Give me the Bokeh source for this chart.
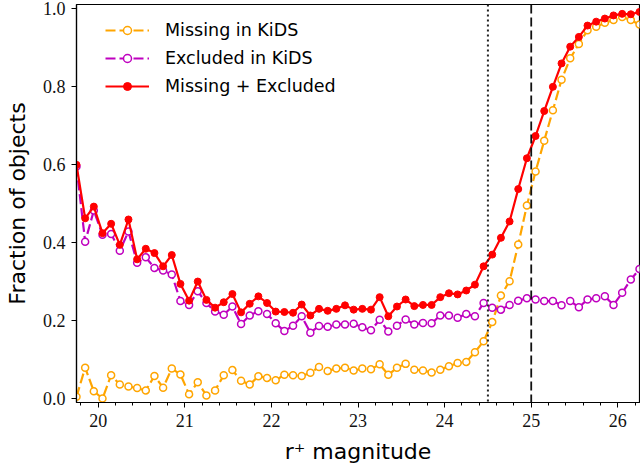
from bokeh.plotting import figure
from bokeh.models import Range1d, FixedTicker, SingleIntervalTicker, Legend, LegendItem, Span, PrintfTickFormatter
from bokeh.embed import file_html
from bokeh.resources import INLINE

# r+ magnitude bin centres
magnitude = [19.75, 19.85, 19.95, 20.05, 20.15, 20.25, 20.35, 20.45, 20.55, 20.65,
             20.75, 20.85, 20.95, 21.05, 21.15, 21.25, 21.35, 21.45, 21.55, 21.65,
             21.75, 21.85, 21.95, 22.05, 22.15, 22.25, 22.35, 22.45, 22.55, 22.65,
             22.75, 22.85, 22.95, 23.05, 23.15, 23.25, 23.35, 23.45, 23.55, 23.65,
             23.75, 23.85, 23.95, 24.05, 24.15, 24.25, 24.35, 24.45, 24.55, 24.65,
             24.75, 24.85, 24.95, 25.05, 25.15, 25.25, 25.35, 25.45, 25.55, 25.65,
             25.75, 25.85, 25.95, 26.05, 26.15, 26.25]

missing = [0.005, 0.079, 0.019, 0.000, 0.060, 0.036, 0.031, 0.027, 0.021, 0.058,
           0.028, 0.077, 0.062, 0.011, 0.042, 0.008, 0.021, 0.060, 0.073, 0.046,
           0.036, 0.057, 0.053, 0.047, 0.061, 0.060, 0.058, 0.066, 0.081, 0.071,
           0.077, 0.079, 0.072, 0.077, 0.075, 0.088, 0.061, 0.079, 0.089, 0.074,
           0.072, 0.067, 0.074, 0.083, 0.091, 0.094, 0.119, 0.147, 0.196, 0.264,
           0.301, 0.395, 0.495, 0.582, 0.661, 0.739, 0.817, 0.872, 0.909, 0.944,
           0.953, 0.963, 0.970, 0.978, 0.970, 0.959]

excluded = [0.595, 0.402, 0.482, 0.420, 0.422, 0.379, 0.428, 0.348, 0.362, 0.335,
            0.328, 0.318, 0.250, 0.240, 0.275, 0.245, 0.223, 0.215, 0.236, 0.191,
            0.213, 0.224, 0.217, 0.193, 0.173, 0.187, 0.211, 0.169, 0.186, 0.184,
            0.190, 0.190, 0.192, 0.183, 0.175, 0.202, 0.172, 0.187, 0.203, 0.190,
            0.194, 0.193, 0.213, 0.213, 0.207, 0.217, 0.211, 0.245, 0.233, 0.228,
            0.240, 0.251, 0.257, 0.254, 0.250, 0.250, 0.239, 0.250, 0.234, 0.254,
            0.257, 0.262, 0.240, 0.271, 0.305, 0.332]

combined = [0.599, 0.462, 0.492, 0.424, 0.448, 0.394, 0.459, 0.357, 0.384, 0.373,
            0.339, 0.368, 0.294, 0.251, 0.300, 0.253, 0.233, 0.247, 0.268, 0.221,
            0.243, 0.262, 0.245, 0.223, 0.222, 0.220, 0.241, 0.213, 0.230, 0.225,
            0.230, 0.239, 0.228, 0.230, 0.228, 0.260, 0.211, 0.236, 0.254, 0.237,
            0.240, 0.240, 0.260, 0.270, 0.267, 0.277, 0.292, 0.339, 0.369, 0.412,
            0.454, 0.537, 0.616, 0.673, 0.737, 0.799, 0.859, 0.902, 0.927, 0.956,
            0.966, 0.974, 0.982, 0.986, 0.985, 0.991]

series_labels = ["Missing in KiDS", "Excluded in KiDS", "Missing + Excluded"]
y_ticks = [0.0, 0.2, 0.4, 0.6, 0.8, 1.0]
limit_dotted = 24.5
limit_dashed = 25.0

p = figure(width=640, height=468, output_backend="svg", toolbar_location=None,
           x_range=Range1d(19.75, 26.25), y_range=Range1d(-0.01, 1.01),
           min_border_left=76, min_border_right=1, min_border_top=4, min_border_bottom=66)
p.background_fill_color = "white"
p.border_fill_color = "white"
p.xgrid.visible = False
p.ygrid.visible = False
p.outline_line_color = "black"
p.outline_line_width = 1.2

for ax in (p.xaxis[0], p.yaxis[0]):
    ax.axis_line_color = "black"
    ax.axis_line_width = 1.2
    ax.major_tick_in = 0
    ax.major_tick_out = 5
    ax.minor_tick_in = 0
    ax.minor_tick_out = 3
    ax.major_tick_line_color = "black"
    ax.minor_tick_line_color = "black"
    ax.major_label_text_font = "Liberation Serif"
    ax.major_label_text_font_size = "18px"
    ax.major_label_text_color = "#111111"

p.xaxis.ticker = SingleIntervalTicker(interval=1, num_minor_ticks=5)
p.xaxis.major_label_standoff = 6
p.xaxis.axis_label = "r\u207a magnitude"
p.xaxis.axis_label_text_font = "DejaVu Sans"
p.xaxis.axis_label_text_font_size = "22px"
p.xaxis.axis_label_text_font_style = "normal"
p.xaxis.axis_label_text_color = "black"
p.xaxis.axis_label_standoff = 9

p.yaxis.ticker = FixedTicker(ticks=y_ticks, minor_ticks=[])
p.yaxis.formatter = PrintfTickFormatter(format="%.1f")
p.yaxis.major_label_standoff = 6
p.yaxis.axis_label = "Fraction of objects"
p.yaxis.axis_label_text_font = "DejaVu Sans"
p.yaxis.axis_label_text_font_size = "22px"
p.yaxis.axis_label_text_font_style = "normal"
p.yaxis.axis_label_text_color = "black"
p.yaxis.axis_label_standoff = 10

# data
l1 = p.line(magnitude, missing, line_color="orange", line_width=2.2, line_dash="10 4")
s1 = p.scatter(magnitude, missing, size=7, line_color="orange", fill_color="white", line_width=1.5)
l2 = p.line(magnitude, excluded, line_color="#bf00bf", line_width=2.2, line_dash="10 4")
s2 = p.scatter(magnitude, excluded, size=7, line_color="#bf00bf", fill_color="white", line_width=1.5)
l3 = p.line(magnitude, combined, line_color="red", line_width=2.2)
s3 = p.scatter(magnitude, combined, size=7, line_color="red", fill_color="red", line_width=1)

p.add_layout(Span(location=limit_dotted, dimension="height", line_color="#222222",
                  line_width=2, line_dash="2 3"))
p.add_layout(Span(location=limit_dashed, dimension="height", line_color="#111111",
                  line_width=1.8, line_dash="9 4"))

legend = Legend(items=[LegendItem(label=series_labels[0], renderers=[l1, s1]),
                       LegendItem(label=series_labels[1], renderers=[l2, s2]),
                       LegendItem(label=series_labels[2], renderers=[l3, s3])],
                location=(29, 306), border_line_alpha=0, background_fill_alpha=0,
                glyph_width=44, glyph_height=20, label_height=20, spacing=8,
                padding=0, margin=0, label_standoff=16,
                label_text_font="DejaVu Sans", label_text_font_size="17.5px",
                label_text_color="black")
p.add_layout(legend)

open("out.html", "w").write(file_html(p, INLINE))
